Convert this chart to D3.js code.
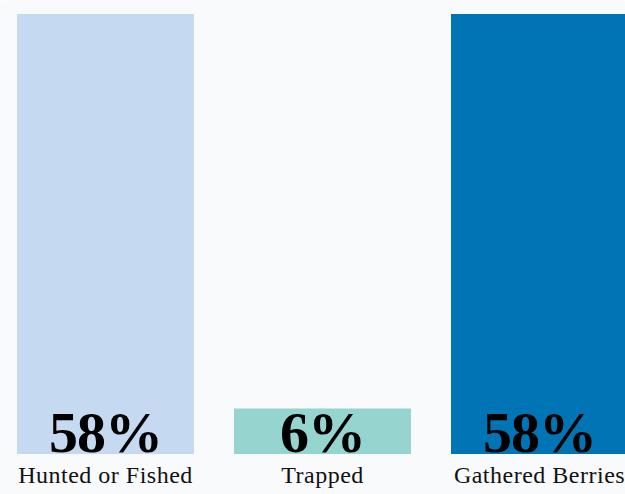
<!DOCTYPE html>
<html><head><meta charset="utf-8">
<script src="https://cdn.jsdelivr.net/npm/d3@7"></script>
<style>
html,body{margin:0;padding:0;background:#ffffff;overflow:hidden;}
svg{display:block;}
</style></head>
<body>
<svg id="chart" width="625" height="494"></svg>
<script>
const categories = ["Hunted or Fished", "Trapped", "Gathered Berries"];
const values = [58, 6, 58];
const valueLabels = ["58%", "6%", "58%"];
const colors = ["#c5daf0", "#96d4cf", "#0074b5"];

const W = 625, H = 494;
const svg = d3.select("#chart");
svg.append("rect").attr("x", -30).attr("y", 0).attr("width", W + 60).attr("height", H + 30)
  .attr("rx", 40).attr("fill", "#f9fafc");

const x = d3.scaleBand().domain(categories).range([17, 628]).paddingInner(40 / 217).paddingOuter(0);
const y = d3.scaleLinear().domain([0, 58]).range([454, 14]);

const g = svg.append("g");
g.selectAll("rect.bar").data(categories).join("rect")
  .attr("class", "bar")
  .attr("x", d => x(d))
  .attr("width", x.bandwidth())
  .attr("y", (d, i) => y(values[i]))
  .attr("height", (d, i) => y(0) - y(values[i]))
  .attr("fill", (d, i) => colors[i]);

g.selectAll("text.val").data(categories).join("text")
  .attr("class", "val")
  .attr("x", d => x(d) + x.bandwidth() / 2)
  .attr("y", y(0) - 2)
  .attr("text-anchor", "middle")
  .attr("font-family", "'Liberation Serif', serif")
  .attr("font-weight", "bold")
  .attr("font-size", 58)
  .attr("letter-spacing", -1)
  .attr("fill", "#000")
  .text((d, i) => valueLabels[i]);

const xAxis = d3.axisBottom(x).tickSize(0).tickPadding(0);
const ax = svg.append("g").attr("transform", `translate(0,${y(0)})`).call(xAxis);
ax.select(".domain").remove();
ax.selectAll("text")
  .attr("dy", 0).attr("y", 29)
  .attr("font-family", "'Liberation Serif', serif")
  .attr("font-size", 24)
  .attr("letter-spacing", 0.5)
  .attr("fill", "#111");
</script>
</body></html>
